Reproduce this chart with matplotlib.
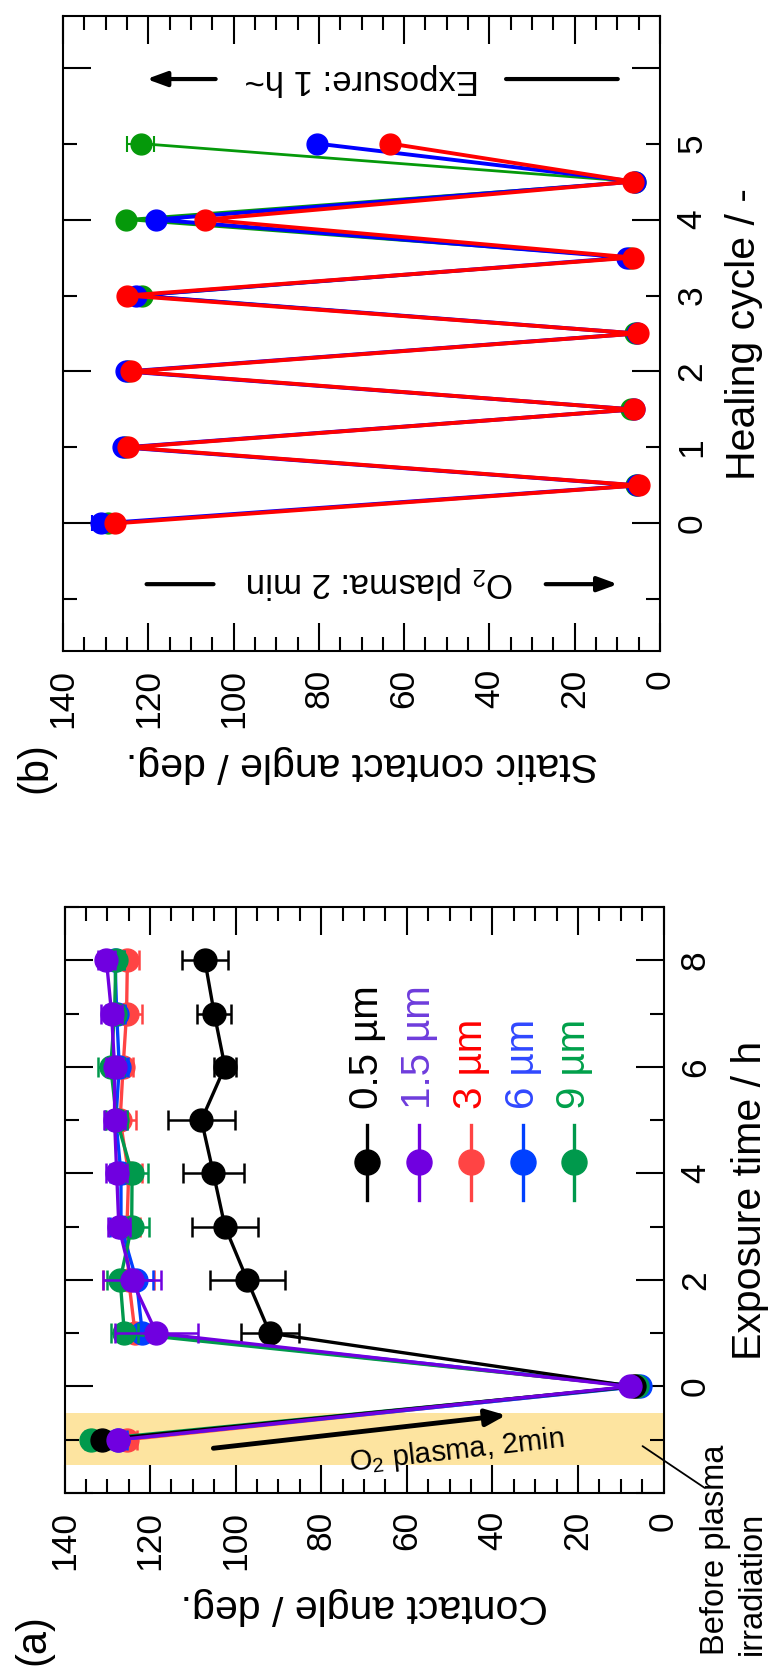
import matplotlib
matplotlib.use("Agg")
import matplotlib.pyplot as plt
from matplotlib.ticker import MultipleLocator, FuncFormatter

plt.rcParams["font.family"] = ["Liberation Sans", "DejaVu Sans"]
plt.rcParams["mathtext.fontset"] = "custom"
plt.rcParams["mathtext.rm"] = "Liberation Sans"
plt.rcParams["mathtext.it"] = "Liberation Sans:italic"
plt.rcParams["mathtext.bf"] = "Liberation Sans:bold"

# ---------------- (a) contact angle vs. exposure time ----------------
exposure_time = [-1, 0, 1, 2, 3, 4, 5, 6, 7, 8]
size_labels = ["0.5 µm", "1.5 µm", "3 µm", "6 µm", "9 µm"]

angle_05 = [131.3, 7.0, 92.0, 97.3, 102.5, 105.2, 108.0, 102.5, 105.0, 107.2]
err_05 = [1.0, 0.6, 6.7, 8.8, 7.8, 7.1, 7.8, 2.5, 4.0, 5.4]
angle_15 = [127.5, 7.8, 118.5, 124.3, 127.3, 127.8, 128.3, 128.3, 129.0, 130.2]
err_15 = [1.5, 0.6, 9.6, 6.8, 2.5, 2.5, 2.5, 2.0, 2.5, 2.0]
angle_3 = [125.5, 6.5, 123.5, 125.0, 125.4, 125.0, 127.0, 126.3, 125.5, 125.3]
err_3 = [2.5, 0.6, 3.0, 6.0, 3.0, 3.0, 3.6, 2.4, 3.6, 2.8]
angle_6 = [127.5, 5.5, 121.8, 123.2, 126.8, 126.8, 128.0, 127.2, 127.8, 128.2]
err_6 = [2.0, 0.6, 3.0, 3.9, 2.5, 2.5, 2.5, 2.0, 2.0, 2.0]
angle_9 = [133.8, 6.2, 126.0, 127.0, 124.3, 124.2, 127.8, 129.2, 128.3, 128.0]
err_9 = [1.5, 0.6, 3.2, 3.0, 4.0, 3.7, 2.5, 3.0, 2.0, 2.0]

marker_colors_a = ["#000000", "#7000E0", "#FF4444", "#0040FF", "#00994C"]
text_colors_a = ["#000000", "#6E3CDC", "#FF0000", "#3048FF", "#00A04A"]
layer_a = [6, 7, 3, 4, 5]

# ---------------- (b) static contact angle vs. healing cycle ----------------
healing_cycle = [0, 0.5, 1, 1.5, 2, 2.5, 3, 3.5, 4, 4.5, 5]
static_green = [129.5, 5.6, 125.5, 6.8, 124.8, 5.8, 121.5, 7.0, 125.2, 5.9, 121.8]
err_green = [1.0, 0.5, 1.0, 0.5, 1.0, 0.5, 1.0, 0.5, 1.0, 0.5, 3.2]
static_blue = [131.0, 5.3, 125.9, 6.0, 125.2, 5.4, 122.8, 7.8, 118.3, 5.8, 80.4]
err_blue = [2.3, 0.5, 1.5, 0.5, 1.0, 0.5, 1.0, 0.5, 1.0, 0.5, 1.0]
static_red = [127.8, 4.9, 124.8, 6.2, 124.0, 5.2, 125.0, 6.3, 106.6, 6.3, 63.2]
err_red = [1.0, 0.5, 1.0, 0.5, 1.0, 0.5, 1.0, 0.5, 1.0, 0.5, 1.0]

W, H = 778, 1675
fig = plt.figure(figsize=(W / 100, H / 100), dpi=100)


def px_axes(left, top, right, bottom):
    return fig.add_axes([left / W, 1 - bottom / H, (right - left) / W, (bottom - top) / H])


def style_axes(ax):
    for s in ax.spines.values():
        s.set_linewidth(1.5)
    ax.tick_params(which="both", direction="in", top=True, bottom=True,
                   left=True, right=True, labelbottom=True, labeltop=False,
                   labelleft=False, labelright=True, width=1.5, labelsize=25.5)
    ax.tick_params(which="major", length=20)
    ax.tick_params(which="minor", length=10)
    ax.tick_params(axis="x", which="both", labelrotation=90, pad=13)
    ax.tick_params(axis="y", which="both", labelrotation=90, pad=11)
    ax.set_xlim(140, 0)
    ax.xaxis.set_major_locator(MultipleLocator(20))
    ax.xaxis.set_minor_locator(MultipleLocator(5))


# ======================= panel (b) =======================
ax_b = px_axes(63, 16, 660, 651)
style_axes(ax_b)
ax_b.set_ylim(-1.68, 6.68)
ax_b.yaxis.set_major_locator(MultipleLocator(2))
ax_b.yaxis.set_minor_locator(MultipleLocator(1, offset=1))
cyc_fmt = FuncFormatter(lambda v, p: f"{v:.0f}" if -0.1 < v < 5.1 else "")
ax_b.yaxis.set_major_formatter(cyc_fmt)
ax_b.yaxis.set_minor_formatter(cyc_fmt)
ax_b.tick_params(axis="y", which="minor", labelright=True, labelsize=25.5)

for vals, errs, col, lw, z in [(static_green, err_green, "#05990A", 2.0, 3),
                               (static_blue, err_blue, "#0000FF", 2.8, 4),
                               (static_red, err_red, "#FF0000", 2.8, 5)]:
    ax_b.errorbar(vals, healing_cycle, xerr=errs, color=col, lw=lw, marker="o",
                  ms=15, capsize=6, elinewidth=1.5, capthick=1.5, zorder=z)

ax_b.set_xlabel("Static contact angle / deg.", fontsize=29.5, rotation=180)
ax_b.xaxis.set_label_coords(0.5, -0.178)
ax_b.xaxis.label.set_va("center")
ax_b.yaxis.set_label_position("right")
ax_b.set_ylabel("Healing cycle / -", fontsize=29.5, rotation=90)
ax_b.yaxis.set_label_coords(1.141, 0.5)
ax_b.yaxis.label.set_va("center")

# process annotations (upside-down text with arrows)
ax_b.text(69.9, 5.84, "Exposure: 1 h~", rotation=180, ha="center", va="center", fontsize=25)
ax_b.annotate("", xy=(9.9, 5.85), xytext=(36.1, 5.85),
              arrowprops=dict(arrowstyle="-", lw=3, color="black", shrinkA=0, shrinkB=0))
ax_b.annotate("", xy=(120.4, 5.85), xytext=(104.2, 5.85),
              arrowprops=dict(arrowstyle="-|>,head_length=0.6,head_width=0.22", lw=3,
                              color="black", shrinkA=0, shrinkB=0, mutation_scale=20))
ax_b.text(65.7, -0.78, "O$_2$ plasma: 2 min", rotation=180, ha="center", va="center", fontsize=25)
ax_b.annotate("", xy=(104.7, -0.80), xytext=(120.4, -0.80),
              arrowprops=dict(arrowstyle="-", lw=3, color="black", shrinkA=0, shrinkB=0))
ax_b.annotate("", xy=(9.9, -0.80), xytext=(26.8, -0.80),
              arrowprops=dict(arrowstyle="-|>,head_length=0.6,head_width=0.22", lw=3,
                              color="black", shrinkA=0, shrinkB=0, mutation_scale=20))

fig.text(35 / W, 1 - 768 / H, "(b)", rotation=90, ha="center", va="center", fontsize=30)

# ======================= panel (a) =======================
ax_a = px_axes(64.5, 907, 663.5, 1493)
style_axes(ax_a)
ax_a.set_ylim(-2, 9)
ax_a.yaxis.set_major_locator(MultipleLocator(2))
ax_a.yaxis.set_minor_locator(MultipleLocator(1, offset=1))
ax_a.yaxis.set_major_formatter(FuncFormatter(lambda v, p: f"{v:.0f}" if v > -0.5 else ""))

ax_a.axhspan(-1.48, -0.5, color="#FDE4A0", zorder=0, lw=0)

series_a = [(angle_05, err_05), (angle_15, err_15), (angle_3, err_3),
            (angle_6, err_6), (angle_9, err_9)]
for (vals, errs), col, z in zip(series_a, marker_colors_a, layer_a):
    ax_a.errorbar(vals, exposure_time, xerr=errs, color=col, lw=2.4, marker="o",
                  ms=16.5, capsize=7, elinewidth=1.8, capthick=1.8, zorder=z)

# legend drawn rotated, one column per particle size
leg_x0, leg_dx = 0.505, 0.0866
for i, (lab, mcol, tcol) in enumerate(zip(size_labels, marker_colors_a, text_colors_a)):
    x = leg_x0 + i * leg_dx
    ax_a.plot([x, x], [0.500, 0.628], transform=ax_a.transAxes, color=mcol, lw=2.4,
              clip_on=False, zorder=8)
    ax_a.plot([x], [0.564], transform=ax_a.transAxes, color=mcol, marker="o", ms=18,
              clip_on=False, zorder=9)
    ax_a.text(x, 0.655, lab, transform=ax_a.transAxes, rotation=90, ha="center",
              va="bottom", color=tcol, fontsize=29)

ax_a.annotate("", xy=(36.8, -0.54), xytext=(105.2, -1.16),
              arrowprops=dict(arrowstyle="-|>,head_length=0.6,head_width=0.25", lw=3.5,
                              color="black", shrinkA=0, shrinkB=0, mutation_scale=20),
              zorder=10)
ax_a.text(48.4, -1.21, "O$_2$ plasma, 2min", rotation=6.5, rotation_mode="anchor",
          ha="center", va="center", fontsize=21, zorder=10)

ax_a.annotate("", xy=(4.9, -1.12), xycoords="data",
              xytext=(704.7 / W, 1 - 1487.9 / H), textcoords="figure fraction",
              arrowprops=dict(arrowstyle="-", lw=1.3, color="black", shrinkA=0, shrinkB=0),
              annotation_clip=False)
fig.text(734 / W, 1 - 1655 / H, "Before plasma\nirradiation", rotation=90, ha="center",
         va="bottom", multialignment="left", fontsize=23.5, linespacing=1.25)

ax_a.set_xlabel("Contact angle / deg.", fontsize=29.5, rotation=180)
ax_a.xaxis.set_label_coords(0.5, -0.193)
ax_a.xaxis.label.set_va("center")
ax_a.yaxis.set_label_position("right")
ax_a.set_ylabel("Exposure time / h", fontsize=29.5, rotation=90)
ax_a.yaxis.set_label_coords(1.144, 0.5)
ax_a.yaxis.label.set_va("center")

fig.text(33 / W, 1 - 1640 / H, "(a)", rotation=90, ha="center", va="center", fontsize=30)

for ax in (ax_a, ax_b):
    for lbl in ax.get_yticklabels(which="both"):
        lbl.set_va("center")

fig.savefig("out.png", dpi=100)
